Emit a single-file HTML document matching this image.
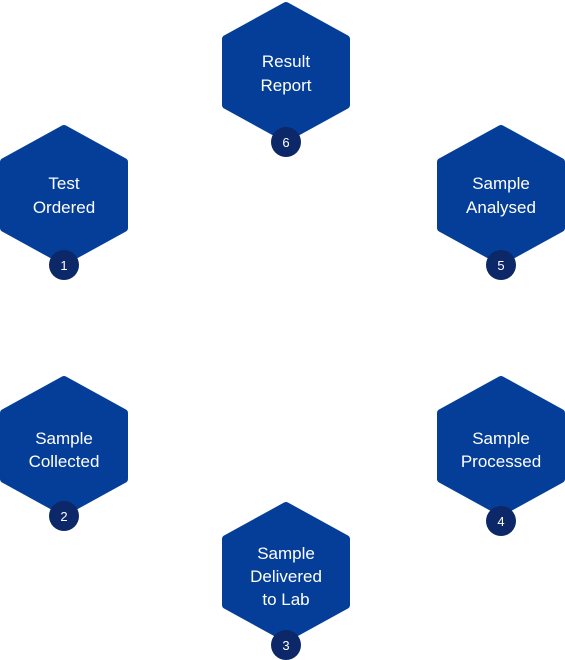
<!DOCTYPE html>
<html><head><style>
html,body{margin:0;padding:0;background:#fff;}
svg{display:block}
text{font-family:"Liberation Sans",sans-serif;fill:#fff;text-anchor:middle}
.h{fill:#043e98;stroke:#043e98;stroke-width:8;stroke-linejoin:round}
.b{fill:#0c2868}
.t{font-size:17px}
.n{font-size:13px}
</style></head><body>
<svg width="565" height="660" viewBox="0 0 565 660">
<defs>
<polygon id="hx" points="0,-66 60,-33 60,33 0,66 -60,33 -60,-33"/>
</defs>
<g transform="translate(64,195)"><use href="#hx" class="h"/><text class="t" y="-6">Test</text><text class="t" y="18">Ordered</text><circle class="b" cy="70" r="15"/><text class="n" y="75">1</text></g>
<g transform="translate(286,72)"><use href="#hx" class="h"/><text class="t" y="-5">Result</text><text class="t" y="19">Report</text><circle class="b" cy="70" r="15"/><text class="n" y="75">6</text></g>
<g transform="translate(501,195)"><use href="#hx" class="h"/><text class="t" y="-6">Sample</text><text class="t" y="18">Analysed</text><circle class="b" cy="70" r="15"/><text class="n" y="75">5</text></g>
<g transform="translate(64,446)"><use href="#hx" class="h"/><text class="t" y="-2">Sample</text><text class="t" y="21">Collected</text><circle class="b" cy="70" r="15"/><text class="n" y="75">2</text></g>
<g transform="translate(501,446)"><use href="#hx" class="h"/><text class="t" y="-2">Sample</text><text class="t" y="21">Processed</text><circle class="b" cy="75" r="15"/><text class="n" y="80">4</text></g>
<g transform="translate(286,572)"><use href="#hx" class="h"/><text class="t" y="-13">Sample</text><text class="t" y="10">Delivered</text><text class="t" y="33">to Lab</text><circle class="b" cy="73" r="15"/><text class="n" y="78">3</text></g>
</svg>
</body></html>
